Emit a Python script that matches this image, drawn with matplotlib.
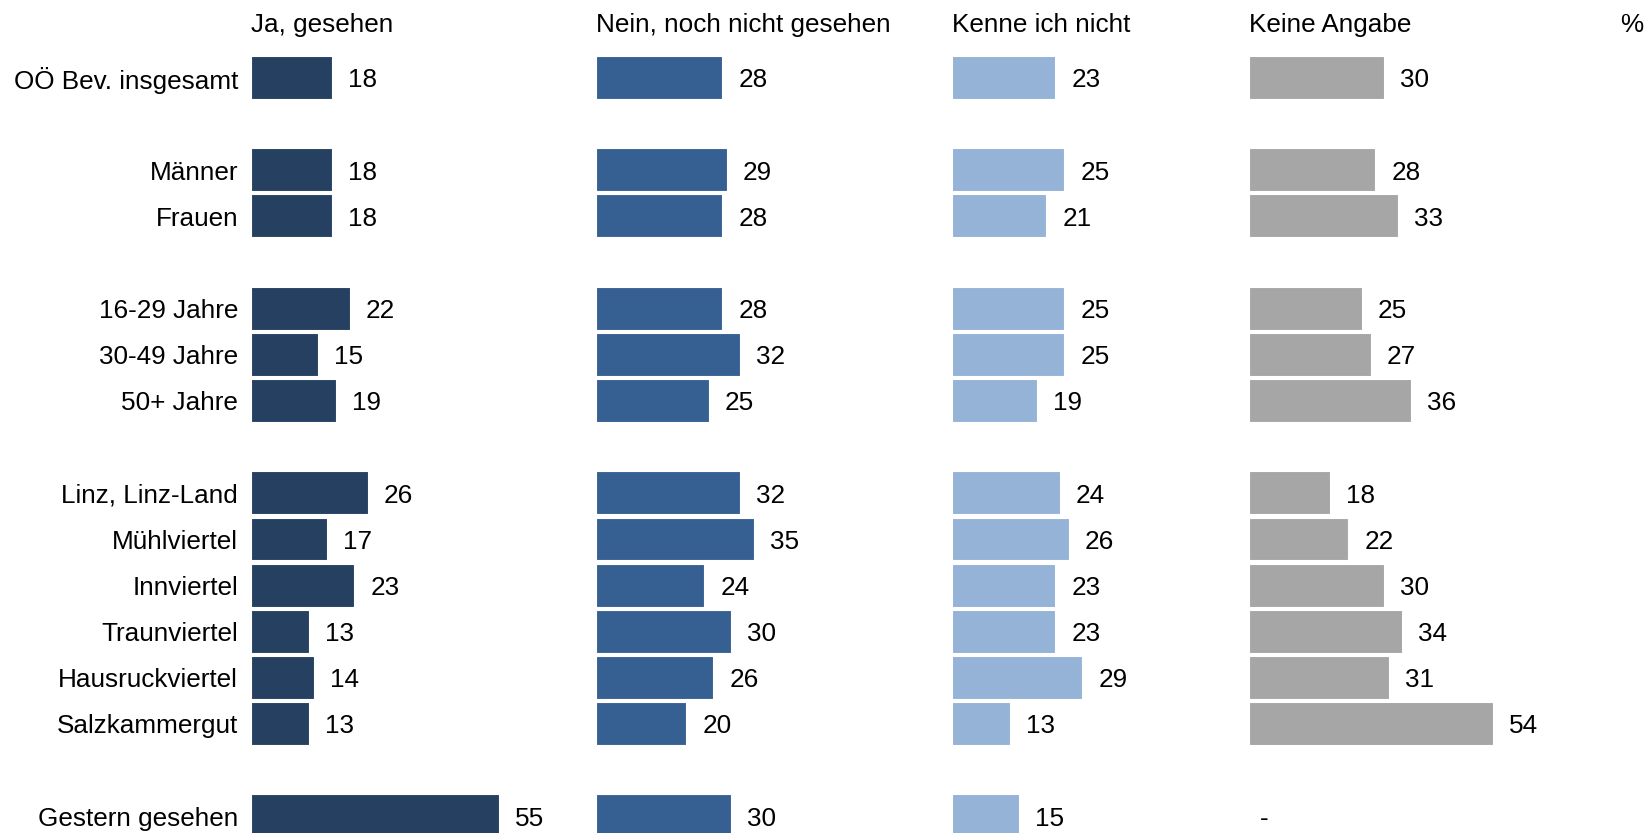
import matplotlib
matplotlib.use('Agg')
import matplotlib.pyplot as plt

plt.rcParams['font.family'] = ['Liberation Sans', 'DejaVu Sans']

# Data
groups = [
    ['OÖ Bev. insgesamt'],
    ['Männer', 'Frauen'],
    ['16-29 Jahre', '30-49 Jahre', '50+ Jahre'],
    ['Linz, Linz-Land', 'Mühlviertel', 'Innviertel', 'Traunviertel', 'Hausruckviertel', 'Salzkammergut'],
    ['Gestern gesehen'],
]
series_names = ['Ja, gesehen', 'Nein, noch nicht gesehen', 'Kenne ich nicht', 'Keine Angabe']
ja = [18, 18, 18, 22, 15, 19, 26, 17, 23, 13, 14, 13, 55]
nein = [28, 29, 28, 28, 32, 25, 32, 35, 24, 30, 26, 20, 30]
kenne = [23, 25, 21, 25, 25, 19, 24, 26, 23, 23, 29, 13, 15]
keine = [30, 28, 33, 25, 27, 36, 18, 22, 30, 34, 31, 54, None]
unit = '%'

series = [ja, nein, kenne, keine]
colors = ['#254061', '#376092', '#95B3D7', '#A6A6A6']

# row positions: one empty slot between groups
labels, rows = [], []
pos = 0
for g in groups:
    for lab in g:
        labels.append(lab)
        rows.append(pos)
        pos += 1
    pos += 1

W, H = 1646, 833
fig = plt.figure(figsize=(W / 100, H / 100), dpi=100, facecolor='white')

px_per_unit = 4.51
col_starts = [250.7, 596, 951.7, 1249]
xmax = 60
slot0, slot_h = 77.5, 46.15
y_top = (0 - slot0) / slot_h
y_bot = (H - slot0) / slot_h
fs = 18.8

for i, (vals, col, x0) in enumerate(zip(series, colors, col_starts)):
    ax = fig.add_axes([x0 / W, 0, xmax * px_per_unit / W, 1])
    ax.set_xlim(0, xmax)
    ax.set_ylim(y_bot, y_top)
    ax.axis('off')
    for r, v in zip(rows, vals):
        if v is None:
            ax.annotate('-', xy=(0, r), xytext=(8, -2), textcoords='offset points',
                        ha='left', va='center', fontsize=fs)
            continue
        ax.barh(r, v, height=0.93, color=col, edgecolor='white', linewidth=0.8)
        ax.annotate(str(v), xy=(v, r), xytext=(11.5, -2), textcoords='offset points',
                    ha='left', va='center', fontsize=fs)
    # column header
    ax.text(0, -1.13, series_names[i], ha='left', va='center', fontsize=fs)
    if i == 0:
        for r, lab in zip(rows, labels):
            ax.annotate(lab, xy=(0, r), xytext=(-9, -2), textcoords='offset points',
                        ha='right', va='center', fontsize=fs)

fig.text(1643 / W, 1 - 25 / H, unit, ha='right', va='center', fontsize=fs)

fig.savefig('out.png', dpi=100, facecolor='white')
